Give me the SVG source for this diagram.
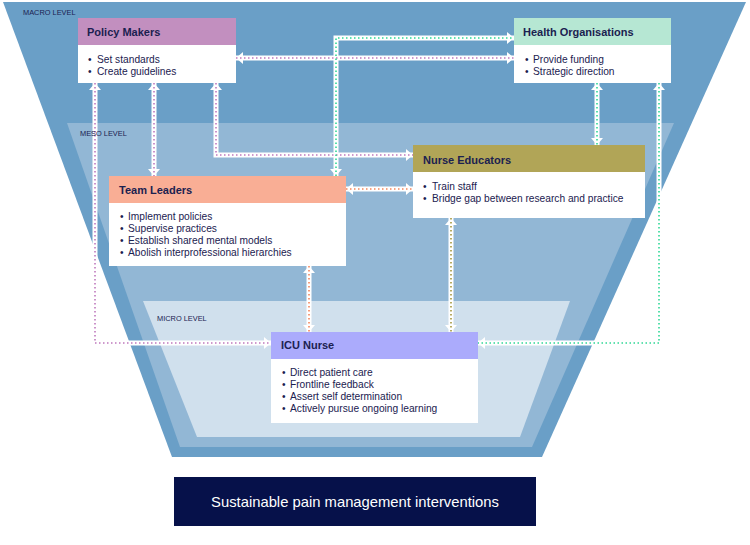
<svg xmlns="http://www.w3.org/2000/svg" width="750" height="545" viewBox="0 0 750 545">
<style>
.lvl{font-family:"Liberation Sans",Arial,sans-serif;font-size:7.4px;fill:#1b2150}
.ttl{font-family:"Liberation Sans",Arial,sans-serif;font-size:11px;font-weight:bold;fill:#1b2150}
.txt{font-family:"Liberation Sans",Arial,sans-serif;font-size:10.2px;fill:#1b2150}
.body{fill:#ffffff}
.wl{fill:none;stroke:#ffffff;stroke-width:5;marker-start:url(#ah);marker-end:url(#ah)}
.dl{fill:none;stroke-width:1.6;stroke-dasharray:1.5 2.5}
.pk{stroke:#bf78bd}
.gr{stroke:#2fd896}
.or{stroke:#f4865c}
.gd{stroke:#a3963c}
</style>
<defs>
<marker id="ah" viewBox="0 0 7 12" markerWidth="7" markerHeight="12" refX="7" refY="6" orient="auto-start-reverse" markerUnits="userSpaceOnUse">
<path d="M0,0 L7,6 L0,12 z" fill="#ffffff"/>
</marker>
</defs>
<rect x="0" y="0" width="750" height="545" fill="#ffffff"/>
<g id="levels">
<polygon points="3,2 746,2 542,457 172,457" fill="#6a9fc7"/>
<polygon points="67,123 674,123 532,447 180,447" fill="#92b7d5"/>
<polygon points="143,301 570,301 520,437 197,437" fill="#d0e0ed"/>
</g>
<g id="policy-makers">
<rect x="78" y="18" width="158" height="27" fill="#c28fbf"/>
<rect class="body" x="78" y="45" width="158" height="38"/>
<text class="ttl" x="87" y="36">Policy Makers</text>
<text class="txt" x="88" y="63">•</text><text class="txt" x="97" y="63">Set standards</text>
<text class="txt" x="88" y="75">•</text><text class="txt" x="97" y="75">Create guidelines</text>
</g>
<g id="health-organisations">
<rect x="514" y="18" width="157" height="27" fill="#b6e7d3"/>
<rect class="body" x="514" y="45" width="157" height="38"/>
<text class="ttl" x="523" y="36">Health Organisations</text>
<text class="txt" x="525" y="63">•</text><text class="txt" x="533" y="63">Provide funding</text>
<text class="txt" x="525" y="75">•</text><text class="txt" x="533" y="75">Strategic direction</text>
</g>
<g id="team-leaders">
<rect x="109" y="176" width="237" height="27" fill="#f9ae95"/>
<rect class="body" x="109" y="203" width="237" height="63"/>
<text class="ttl" x="119" y="194">Team Leaders</text>
<text class="txt" x="120" y="220">•</text><text class="txt" x="128" y="220">Implement policies</text>
<text class="txt" x="120" y="232">•</text><text class="txt" x="128" y="232">Supervise practices</text>
<text class="txt" x="120" y="244">•</text><text class="txt" x="128" y="244">Establish shared mental models</text>
<text class="txt" x="120" y="256">•</text><text class="txt" x="128" y="256">Abolish interprofessional hierarchies</text>
</g>
<g id="nurse-educators">
<rect x="413" y="145" width="232" height="27" fill="#b1a557"/>
<rect class="body" x="413" y="172" width="232" height="46"/>
<text class="ttl" x="423" y="164">Nurse Educators</text>
<text class="txt" x="423" y="190">•</text><text class="txt" x="432" y="190">Train staff</text>
<text class="txt" x="423" y="202">•</text><text class="txt" x="432" y="202">Bridge gap between research and practice</text>
</g>
<g id="icu-nurse">
<rect x="271" y="332" width="207" height="27" fill="#ababfc"/>
<rect class="body" x="271" y="359" width="207" height="64"/>
<text class="ttl" x="281" y="349">ICU Nurse</text>
<text class="txt" x="282" y="376">•</text><text class="txt" x="290" y="376">Direct patient care</text>
<text class="txt" x="282" y="388">•</text><text class="txt" x="290" y="388">Frontline feedback</text>
<text class="txt" x="282" y="400">•</text><text class="txt" x="290" y="400">Assert self determination</text>
<text class="txt" x="282" y="412">•</text><text class="txt" x="290" y="412">Actively pursue ongoing learning</text>
</g>
<g id="connectors">
<path class="wl" d="M236,58 H514"/>
<path class="wl" d="M95,83 V343 H271"/>
<path class="wl" d="M154,83 V176"/>
<path class="wl" d="M216,83 V155 H413"/>
<path class="wl" d="M346,189 H413"/>
<path class="wl" d="M309,266 V332"/>
<path class="wl" d="M451,218 V332"/>
<path class="wl" d="M597,83 V145"/>
<path class="wl" d="M659,83 V343 H478"/>
<path class="wl" d="M336,176 V38 H514"/>
<path class="dl pk" d="M236,58 H514"/>
<path class="dl pk" d="M95,83 V343 H271"/>
<path class="dl pk" d="M154,83 V176"/>
<path class="dl pk" d="M216,83 V155 H413"/>
<path class="dl or" d="M346,189 H413"/>
<path class="dl or" d="M309,266 V332"/>
<path class="dl gd" d="M451,218 V332"/>
<path class="dl gr" d="M597,83 V145"/>
<path class="dl gr" d="M659,83 V343 H478"/>
<path class="dl gr" d="M336,176 V38 H514"/>
</g>
<g id="level-labels">
<text class="lvl" x="23" y="15">MACRO LEVEL</text>
<text class="lvl" x="80" y="136">MESO LEVEL</text>
<text class="lvl" x="157" y="321">MICRO LEVEL</text>
</g>
<g id="outcome">
<rect x="174" y="477" width="362" height="49" fill="#06114a"/>
<text x="355" y="507" text-anchor="middle" font-family="'Liberation Sans',Arial,sans-serif" font-size="14.8" fill="#ffffff">Sustainable pain management interventions</text>
</g>
</svg>
